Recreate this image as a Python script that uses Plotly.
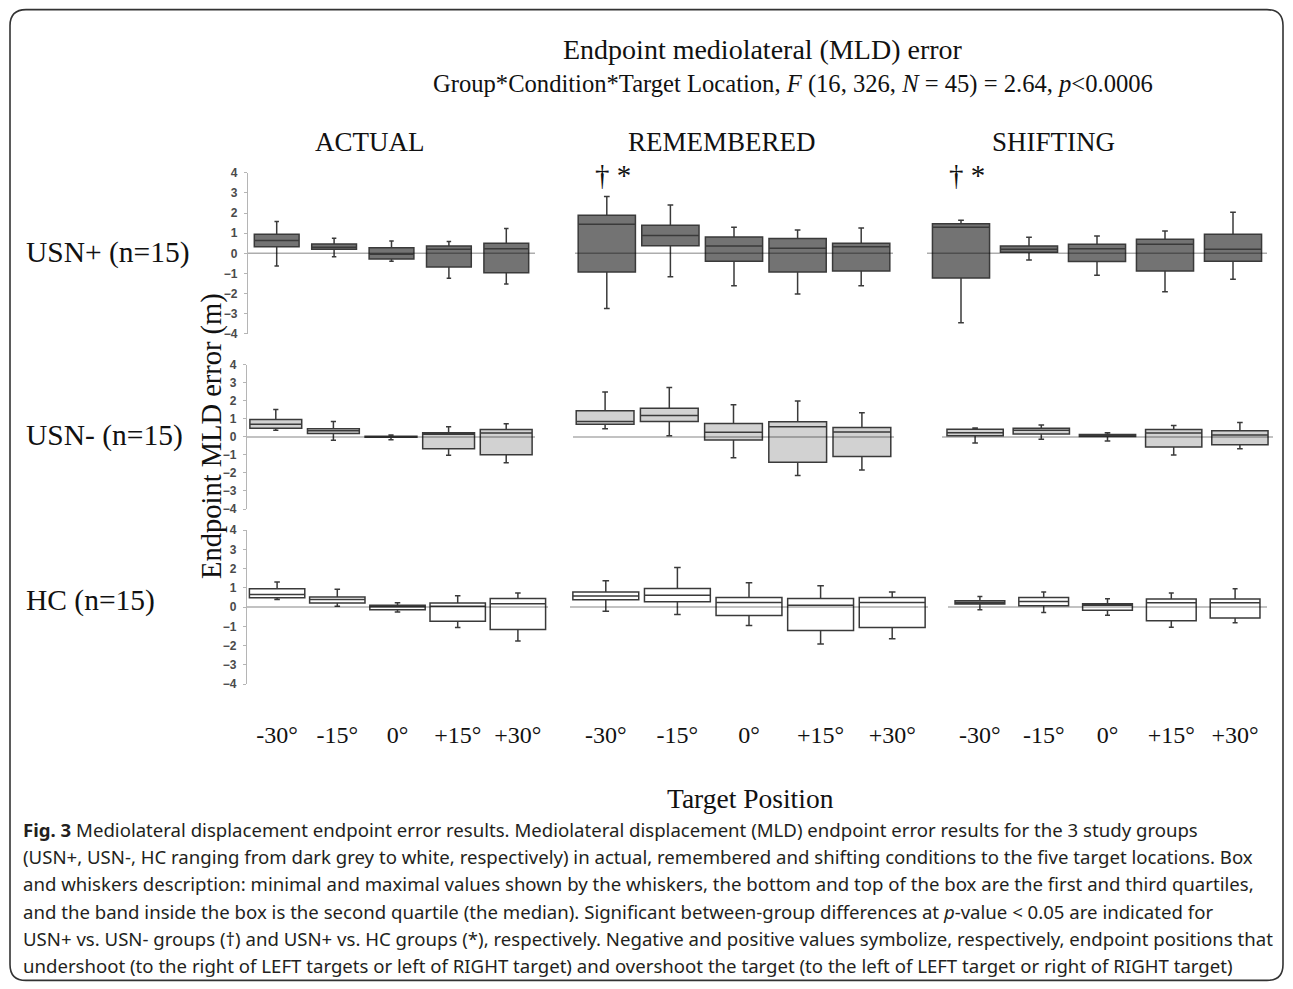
import plotly.graph_objects as go

# ---------------- DATA ----------------
positions = ["-30°", "-15°", "0°", "+15°", "+30°"]
conditions = ["ACTUAL", "REMEMBERED", "SHIFTING"]
groups = ["USN+ (n=15)", "USN- (n=15)", "HC (n=15)"]
y_ticks = [-4, -3, -2, -1, 0, 1, 2, 3, 4]

# USN+ group
usnp_actual_lo = [-0.63, -0.17, -0.40, -1.24, -1.53]
usnp_actual_q1 = [0.33, 0.20, -0.28, -0.68, -0.96]
usnp_actual_med = [0.63, 0.30, -0.05, 0.20, 0.23]
usnp_actual_q3 = [0.95, 0.46, 0.27, 0.36, 0.50]
usnp_actual_hi = [1.58, 0.75, 0.61, 0.58, 1.23]

usnp_remembered_lo = [-2.74, -1.16, -1.61, -2.02, -1.61]
usnp_remembered_q1 = [-0.93, 0.38, -0.40, -0.93, -0.88]
usnp_remembered_med = [1.44, 0.88, 0.36, 0.25, 0.32]
usnp_remembered_q3 = [1.89, 1.39, 0.81, 0.73, 0.50]
usnp_remembered_hi = [2.82, 2.40, 1.29, 1.16, 1.26]

usnp_shifting_lo = [-3.45, -0.33, -1.09, -1.91, -1.29]
usnp_shifting_q1 = [-1.23, 0.05, -0.41, -0.88, -0.40]
usnp_shifting_med = [1.29, 0.20, 0.22, 0.45, 0.20]
usnp_shifting_q3 = [1.47, 0.36, 0.45, 0.70, 0.95]
usnp_shifting_hi = [1.64, 0.80, 0.86, 1.11, 2.04]

# USN- group
usnm_actual_lo = [0.37, -0.19, -0.15, -1.02, -1.43]
usnm_actual_q1 = [0.48, 0.19, -0.02, -0.65, -0.99]
usnm_actual_med = [0.71, 0.34, 0.00, 0.15, 0.22]
usnm_actual_q3 = [0.97, 0.45, 0.04, 0.24, 0.41]
usnm_actual_hi = [1.53, 0.86, 0.11, 0.56, 0.73]

usnm_remembered_lo = [0.45, 0.06, -1.15, -2.14, -1.84]
usnm_remembered_q1 = [0.71, 0.86, -0.17, -1.40, -1.08]
usnm_remembered_med = [0.86, 1.19, 0.26, 0.56, 0.28]
usnm_remembered_q3 = [1.45, 1.60, 0.74, 0.84, 0.52]
usnm_remembered_hi = [2.50, 2.74, 1.79, 1.99, 1.34]

usnm_shifting_lo = [-0.34, -0.13, -0.22, -1.00, -0.65]
usnm_shifting_q1 = [0.07, 0.17, 0.02, -0.56, -0.43]
usnm_shifting_med = [0.24, 0.37, 0.07, 0.22, 0.11]
usnm_shifting_q3 = [0.43, 0.48, 0.13, 0.41, 0.35]
usnm_shifting_hi = [0.50, 0.67, 0.24, 0.63, 0.80]

# HC group
hc_actual_lo = [0.40, 0.05, -0.26, -1.06, -1.76]
hc_actual_q1 = [0.48, 0.21, -0.14, -0.74, -1.16]
hc_actual_med = [0.66, 0.40, 0.02, 0.05, 0.17]
hc_actual_q3 = [0.95, 0.52, 0.10, 0.21, 0.45]
hc_actual_hi = [1.30, 0.92, 0.22, 0.59, 0.73]

hc_remembered_lo = [-0.21, -0.38, -0.95, -1.92, -1.64]
hc_remembered_q1 = [0.38, 0.28, -0.43, -1.21, -1.06]
hc_remembered_med = [0.57, 0.62, 0.24, 0.09, 0.24]
hc_remembered_q3 = [0.78, 0.97, 0.50, 0.45, 0.50]
hc_remembered_hi = [1.37, 2.06, 1.26, 1.11, 0.78]

hc_shifting_lo = [-0.14, -0.28, -0.42, -1.04, -0.81]
hc_shifting_q1 = [0.16, 0.07, -0.17, -0.71, -0.57]
hc_shifting_med = [0.24, 0.29, 0.09, 0.22, 0.22]
hc_shifting_q3 = [0.33, 0.50, 0.17, 0.42, 0.42]
hc_shifting_hi = [0.55, 0.78, 0.43, 0.73, 0.95]

# significance markers (group USN+, target -30°)
sig_marks = {"REMEMBERED": "† *", "SHIFTING": "† *"}

panels = [
    [(usnp_actual_lo, usnp_actual_q1, usnp_actual_med, usnp_actual_q3, usnp_actual_hi),
     (usnp_remembered_lo, usnp_remembered_q1, usnp_remembered_med, usnp_remembered_q3, usnp_remembered_hi),
     (usnp_shifting_lo, usnp_shifting_q1, usnp_shifting_med, usnp_shifting_q3, usnp_shifting_hi)],
    [(usnm_actual_lo, usnm_actual_q1, usnm_actual_med, usnm_actual_q3, usnm_actual_hi),
     (usnm_remembered_lo, usnm_remembered_q1, usnm_remembered_med, usnm_remembered_q3, usnm_remembered_hi),
     (usnm_shifting_lo, usnm_shifting_q1, usnm_shifting_med, usnm_shifting_q3, usnm_shifting_hi)],
    [(hc_actual_lo, hc_actual_q1, hc_actual_med, hc_actual_q3, hc_actual_hi),
     (hc_remembered_lo, hc_remembered_q1, hc_remembered_med, hc_remembered_q3, hc_remembered_hi),
     (hc_shifting_lo, hc_shifting_q1, hc_shifting_med, hc_shifting_q3, hc_shifting_hi)],
]

# ---------------- LAYOUT / STYLE ----------------
W, H = 1293, 989
SERIF = "Liberation Serif, Times New Roman, serif"
SANS = "Noto Sans, Open Sans, sans-serif"
VSTRETCH = 1.0152  # vertical layout calibration about the page centre

def px(x):
    return x / W

def py(y):
    yt = H / 2 + (y - H / 2) * VSTRETCH
    return 1 - yt / H

def sid(i):
    return "" if i == 1 else str(i)

group_fill = ["#737373", "#d2d2d2", "#ffffff"]
x_dom_px = [[(248, 535), (575, 893), (927, 1267)],
            [(247, 535), (573, 894), (942, 1273)],
            [(247, 548), (570, 928), (948, 1267)]]
y_dom_px = [(173, 334), (365, 509), (530, 684)]
box_w = [[0.78, 0.90, 0.84], [0.90, 0.90, 0.85], [0.92, 0.92, 0.78]]

fig = go.Figure()
layout = {}
shapes = []
annotations = []
xcat = list(range(len(positions)))

for r in range(3):
    for c in range(3):
        i = r * 3 + c + 1
        s = sid(i)
        lo, q1, med, q3, hi = panels[r][c]
        fig.add_trace(go.Box(
            x=xcat, lowerfence=lo, q1=q1, median=med, q3=q3, upperfence=hi,
            width=box_w[r][c], fillcolor=group_fill[r],
            line=dict(color="#3a3a3a", width=1.5), whiskerwidth=0.1,
            xaxis="x" + s, yaxis="y" + s, showlegend=False, hoverinfo="skip",
        ))
        xd = x_dom_px[r][c]
        yd = y_dom_px[r]
        xa = dict(domain=[px(xd[0]), px(xd[1])], range=[-0.5, len(positions) - 0.5],
                  showgrid=False, zeroline=False, showline=False, ticks="",
                  anchor="y" + s, fixedrange=True)
        if r == 2:
            xa.update(tickmode="array", tickvals=xcat, ticktext=positions,
                      tickfont=dict(family=SERIF, size=24, color="#111"),
                      ticklabelstandoff=34, showticklabels=True)
        else:
            xa.update(showticklabels=False)
        ya = dict(domain=[py(yd[1]), py(yd[0])], range=[-4, 4], showgrid=False,
                  zeroline=False, anchor="x" + s, fixedrange=True)
        if c == 0:
            ya.update(showline=True, linecolor="#b5b5b5", linewidth=1.2,
                      ticks="outside", ticklen=3, tickcolor="#b5b5b5",
                      tickmode="array", tickvals=y_ticks,
                      tickfont=dict(family="Liberation Sans, Arial", size=12,
                                    color="#4a4a4a", weight="bold"),
                      ticklabelstandoff=4)
        else:
            ya.update(visible=False)
        layout["xaxis" + s] = xa
        layout["yaxis" + s] = ya
        shapes.append(dict(type="line", xref=f"x{s} domain", x0=0, x1=1,
                           yref="y" + s, y0=0, y1=0, layer="above",
                           line=dict(color="rgba(0,0,0,0.32)", width=1.5)))
        if r == 0 and conditions[c] in sig_marks:
            annotations.append(dict(
                x=0, y=py(175), xref="x" + s, yref="paper", xshift=6,
                text=sig_marks[conditions[c]], showarrow=False,
                font=dict(family=SERIF, size=29, color="#111"),
                xanchor="center", yanchor="middle"))

# titles
annotations.append(dict(x=px(763), y=py(50), xref="paper", yref="paper",
                        text="Endpoint mediolateral (MLD) error", showarrow=False,
                        font=dict(family=SERIF, size=28, color="#111"),
                        xanchor="center", yanchor="middle"))
annotations.append(dict(x=px(793), y=py(84), xref="paper", yref="paper",
                        text="Group*Condition*Target Location, <i>F</i> (16, 326, <i>N</i> = 45) = 2.64, <i>p</i>&lt;0.0006",
                        showarrow=False, font=dict(family=SERIF, size=24.6, color="#111"),
                        xanchor="center", yanchor="middle"))
col_title_x = [370, 722, 1053]
for c, name in enumerate(conditions):
    annotations.append(dict(x=px(col_title_x[c]), y=py(142), xref="paper", yref="paper",
                            text=name, showarrow=False,
                            font=dict(family=SERIF, size=27, color="#111"),
                            xanchor="center", yanchor="middle"))
row_label_y = [253, 436, 600]
for r, name in enumerate(groups):
    annotations.append(dict(x=px(24), y=py(row_label_y[r]), xref="paper", yref="paper",
                            text=name, showarrow=False,
                            font=dict(family=SERIF, size=29.5, color="#111"),
                            xanchor="left", yanchor="middle"))
annotations.append(dict(x=px(212), y=py(436), xref="paper", yref="paper",
                        text="Endpoint MLD error (m)", showarrow=False, textangle=-90,
                        font=dict(family=SERIF, size=28.5, color="#111"),
                        xanchor="center", yanchor="middle"))
annotations.append(dict(x=px(750), y=py(798), xref="paper", yref="paper",
                        text="Target Position", showarrow=False,
                        font=dict(family=SERIF, size=27.5, color="#111"),
                        xanchor="center", yanchor="middle"))

caption_lines = [
    "<b>Fig. 3</b> Mediolateral displacement endpoint error results. Mediolateral displacement (MLD) endpoint error results for the 3 study groups",
    "(USN+, USN-, HC ranging from dark grey to white, respectively) in actual, remembered and shifting conditions to the five target locations. Box",
    "and whiskers description: minimal and maximal values shown by the whiskers, the bottom and top of the box are the first and third quartiles,",
    "and the band inside the box is the second quartile (the median). Significant between-group differences at <i>p</i>-value &lt; 0.05 are indicated for",
    "USN+ vs. USN- groups (†) and USN+ vs. HC groups (*), respectively. Negative and positive values symbolize, respectively, endpoint positions that",
    "undershoot (to the right of LEFT targets or left of RIGHT target) and overshoot the target (to the left of LEFT target or right of RIGHT target)",
]
for k, line in enumerate(caption_lines):
    annotations.append(dict(x=px(21), y=py(829 + k * 27.3), xref="paper", yref="paper",
                            text=line, showarrow=False,
                            font=dict(family=SANS, size=18.6, color="#231f20"),
                            xanchor="left", yanchor="middle"))

# rounded border
x0, y0, x1, y1, rr = 10, 10, 1283, 980, 16
pts = (f"M {px(x0 + rr)},{py(y0)} L {px(x1 - rr)},{py(y0)} "
       f"Q {px(x1)},{py(y0)} {px(x1)},{py(y0 + rr)} L {px(x1)},{py(y1 - rr)} "
       f"Q {px(x1)},{py(y1)} {px(x1 - rr)},{py(y1)} L {px(x0 + rr)},{py(y1)} "
       f"Q {px(x0)},{py(y1)} {px(x0)},{py(y1 - rr)} L {px(x0)},{py(y0 + rr)} "
       f"Q {px(x0)},{py(y0)} {px(x0 + rr)},{py(y0)} Z")
shapes.append(dict(type="path", xref="paper", yref="paper", path=pts,
                   line=dict(color="#333333", width=1.6), layer="below"))

fig.update_layout(
    width=W, height=H, margin=dict(l=0, r=0, t=0, b=0),
    paper_bgcolor="white", plot_bgcolor="rgba(0,0,0,0)",
    shapes=shapes, annotations=annotations, showlegend=False,
    **layout,
)

pin_js = (
    "document.documentElement.style.margin='0';"
    "document.body.style.margin='0';"
)
fig.write_html("out.html", config={"displayModeBar": False}, post_script=pin_js)
